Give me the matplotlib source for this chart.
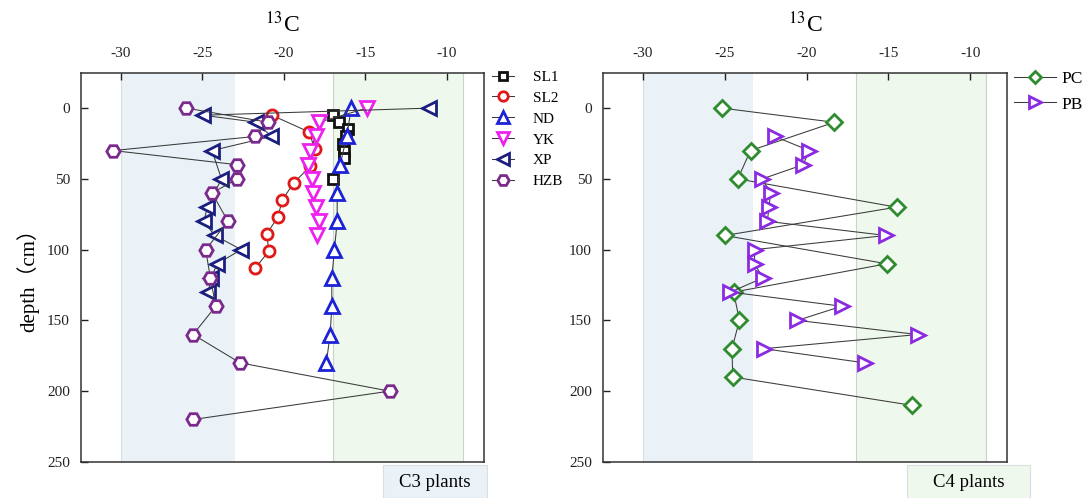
import matplotlib
matplotlib.use("Agg")
import matplotlib.pyplot as plt
from matplotlib.patches import Rectangle

plt.rcParams["font.family"] = ["Liberation Serif", "Noto Sans CJK SC"]
plt.rcParams["mathtext.fontset"] = "stix"
plt.rcParams["axes.unicode_minus"] = False

# ---- stable carbon isotope profiles (delta 13C, per mil) vs depth (cm) ----
sl1_depth = [5, 10, 15, 20, 25, 30, 35, 50]
sl1_d13c = [-16.96, -16.6, -16.05, -16.2, -16.38, -16.3, -16.3, -16.96]

sl2_depth = [5, 17, 29, 41, 53, 65, 77, 89, 101, 113]
sl2_d13c = [-20.74, -18.43, -18.12, -18.37, -19.41, -20.1, -20.37, -21.06, -20.92, -21.75]

nd_depth = [0, 20, 40, 60, 80, 100, 120, 140, 160, 180]
nd_d13c = [-15.87, -16.14, -16.55, -16.73, -16.73, -16.9, -17.06, -17.06, -17.16, -17.4]

yk_depth = [0, 10, 20, 30, 40, 50, 60, 70, 80, 90]
yk_d13c = [-14.91, -17.86, -18.06, -18.38, -18.53, -18.29, -18.22, -18.06, -17.86, -17.98]

xp_depth = [0, 5, 10, 20, 30, 50, 70, 80, 90, 100, 110, 120, 130]
xp_d13c = [-11.08, -24.96, -21.69, -20.77, -24.41, -23.83, -24.69, -24.92, -24.24,
           -22.61, -24.1, -24.45, -24.65]

hzb_depth = [0, 10, 20, 30, 40, 50, 60, 80, 100, 120, 140, 160, 180, 200, 220]
hzb_d13c = [-25.98, -20.98, -21.75, -30.47, -22.85, -22.85, -24.41, -23.43, -24.8,
            -24.51, -24.18, -25.57, -22.69, -13.51, -25.55]

pc_depth = [0, 10, 30, 50, 70, 90, 110, 130, 150, 170, 190, 210]
pc_d13c = [-25.17, -18.3, -23.43, -24.21, -14.5, -25.01, -15.1, -24.46, -24.11,
           -24.56, -24.52, -13.58]

pb_depth = [20, 30, 40, 50, 60, 70, 80, 90, 100, 110, 120, 130, 140, 150, 160, 170, 180]
pb_d13c = [-21.95, -19.84, -20.21, -22.71, -22.2, -22.3, -22.4, -15.15, -23.18,
           -23.18, -22.67, -24.66, -17.85, -20.56, -13.21, -22.61, -16.45]

# C3 / C4 reference ranges
c3_range = (-30, -23)
c4_range = (-17, -9)

xticks = [-30, -25, -20, -15, -10]
yticks = [0, 50, 100, 150, 200, 250]

W, H = 1090.0, 498.0
fig = plt.figure(figsize=(W / 100, H / 100), dpi=100)
ax1 = fig.add_axes([0.0743, 0.0725, 0.3693, 0.7800])
ax2 = fig.add_axes([0.5532, 0.0725, 0.3706, 0.7800])

C3_FILL = "#eaf2f7"
C4_FILL = "#eff8ec"
LINE_C = "#3a3a3a"


def style_axes(ax, c3_hi):
    ax.axvspan(c3_range[0], c3_hi, color=C3_FILL, zorder=0, lw=0)
    ax.axvspan(c4_range[0], c4_range[1], color=C4_FILL, zorder=0, lw=0)
    for xv in (c4_range[0], c4_range[1]):
        ax.axvline(xv, color="#c9d3c9", lw=0.8, zorder=0.5)
    ax.axvline(c3_range[0], color="#d6dee4", lw=0.8, zorder=0.5)
    ax.set_xlim(-32.45, -7.75)
    ax.set_ylim(250, -24.5)
    ax.xaxis.tick_top()
    ax.set_xticks(xticks)
    ax.set_yticks(yticks)
    ax.tick_params(axis="x", direction="in", length=5, width=1, pad=10,
                   labelsize=11, colors="#222222", top=True, bottom=False)
    ax.tick_params(axis="y", direction="in", length=5, width=1, pad=8,
                   labelsize=11, colors="#222222", left=True, right=False)
    for sp in ax.spines.values():
        sp.set_color("#333333")
        sp.set_linewidth(1.1)
    pos = ax.get_position()
    fig.text((pos.x0 + pos.x1) / 2, 1 - 24 / H, r"$^{13}$C", ha="center",
             va="center", fontsize=17)


style_axes(ax1, c3_range[1])
style_axes(ax2, -23.3)


def profile(ax, d13c, depth, marker, color, label, ms, mew=2.0):
    ax.plot(d13c, depth, color=LINE_C, lw=0.75, marker=marker, ms=ms,
            mec=color, mfc="white", mew=mew, label=label, zorder=3)


profile(ax1, sl1_d13c, sl1_depth, "s", "#111111", "SL1", 6.6)
profile(ax1, sl2_d13c, sl2_depth, "o", "#e01818", "SL2", 8.0)
profile(ax1, nd_d13c, nd_depth, "^", "#1c22d6", "ND", 10.0)
profile(ax1, yk_d13c, yk_depth, "v", "#ee22ee", "YK", 10.0)
profile(ax1, xp_d13c, xp_depth, "<", "#1b1f7e", "XP", 10.0)
profile(ax1, hzb_d13c, hzb_depth, "H", "#7a2a8c", "HZB", 9.6)

profile(ax2, pc_d13c, pc_depth, "D", "#2e8b2e", "PC", 8.0)
profile(ax2, pb_d13c, pb_depth, ">", "#8a2be2", "PB", 10.0)

fig.text(28 / W, 1 - 275 / H, "depth（cm）", rotation=90, ha="center",
         va="center", fontsize=15)

leg1 = ax1.legend(loc="upper left", bbox_to_anchor=(1.005, 1.024), frameon=False,
                  fontsize=11, handlelength=1.45, handletextpad=1.25,
                  labelspacing=0.47, borderaxespad=0.0, markerscale=0.85)
leg2 = ax2.legend(loc="upper left", bbox_to_anchor=(1.0, 1.025), frameon=False,
                  fontsize=12.5, handlelength=2.45, handletextpad=0.3,
                  labelspacing=0.55, borderaxespad=0.0, markerscale=0.8)


def plant_box(x0, x1, text, fill):
    r = Rectangle((x0 / W, 0.0), (x1 - x0) / W, 33 / H, transform=fig.transFigure,
                  facecolor=fill, edgecolor="#d8dee2", lw=0.8, zorder=0)
    fig.patches.append(r)
    fig.text((x0 + x1) / 2 / W, 16 / H, text, ha="center", va="center", fontsize=13.5)


plant_box(383, 487, "C3 plants", C3_FILL)
plant_box(907, 1030, "C4 plants", C4_FILL)

fig.savefig("out.png", dpi=100)
